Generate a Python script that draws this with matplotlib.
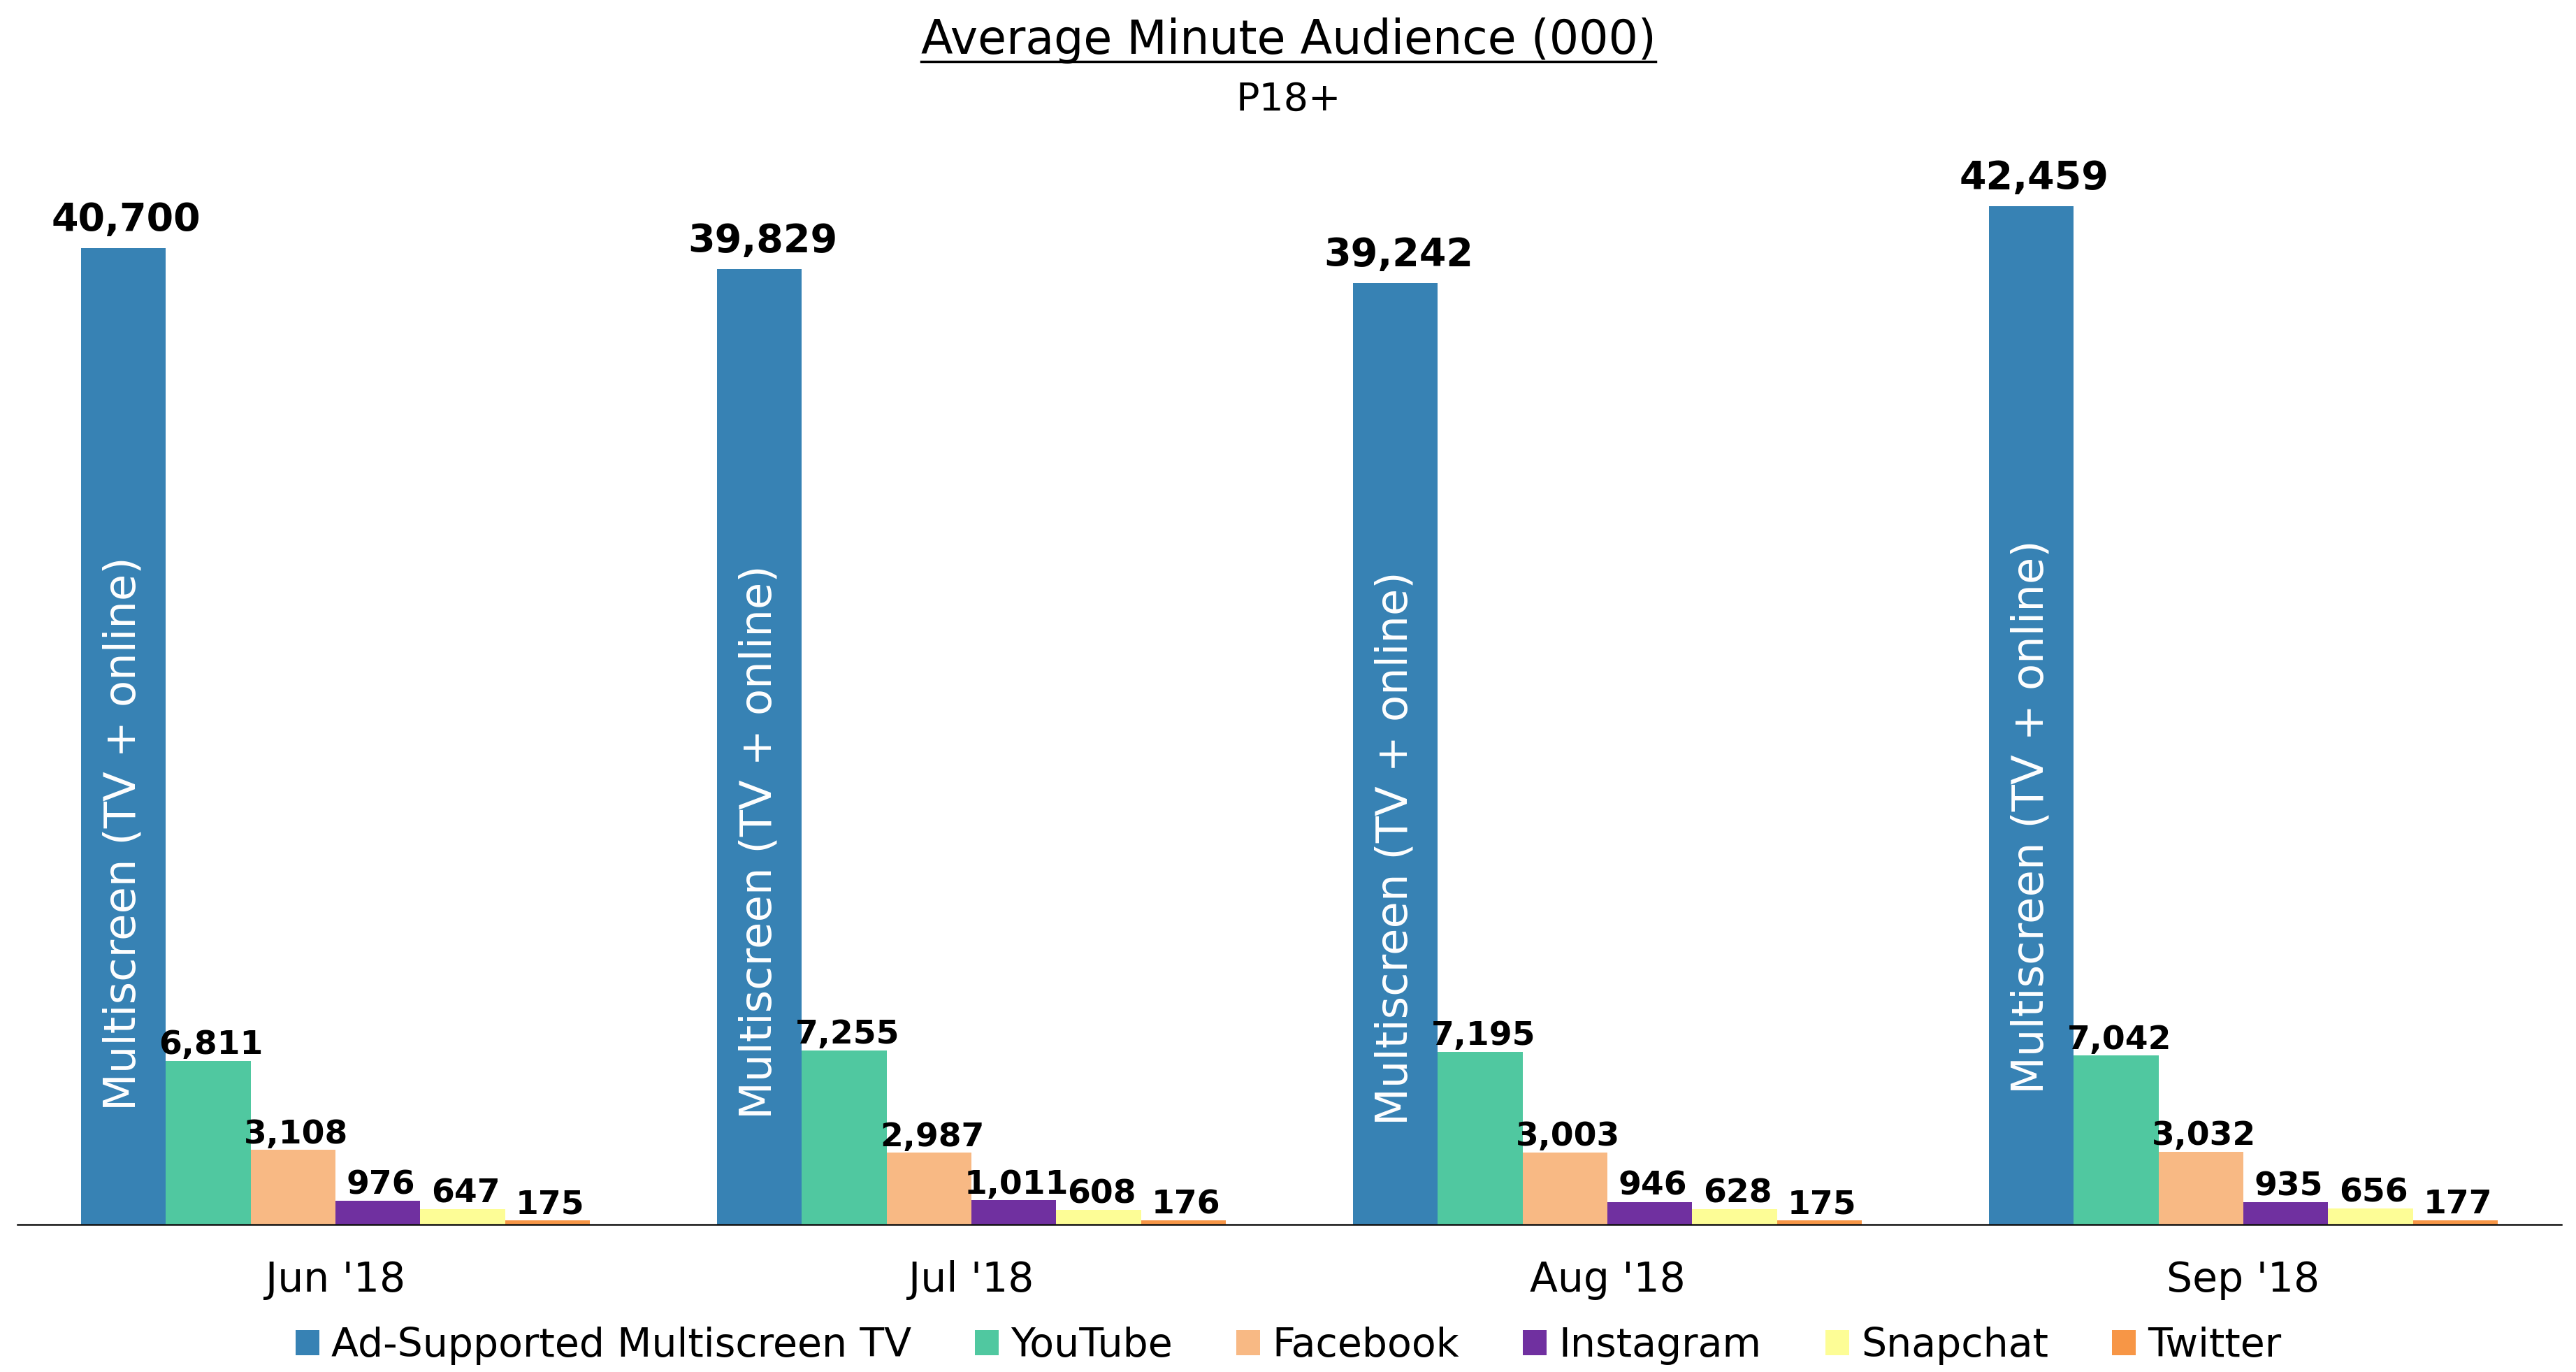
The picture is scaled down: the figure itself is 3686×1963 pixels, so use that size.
import numpy as np
import matplotlib
matplotlib.use("Agg")
import matplotlib.pyplot as plt
from matplotlib.lines import Line2D

# ---- data ----
months = ["Jun '18", "Jul '18", "Aug '18", "Sep '18"]
series = ["Ad-Supported Multiscreen TV", "YouTube", "Facebook", "Instagram", "Snapchat", "Twitter"]
multiscreen_tv = [40700, 39829, 39242, 42459]
youtube = [6811, 7255, 7195, 7042]
facebook = [3108, 2987, 3003, 3032]
instagram = [976, 1011, 946, 935]
snapchat = [647, 608, 628, 656]
twitter = [175, 176, 175, 177]
colors = ["#3782B4", "#50C8A0", "#F8B984", "#7030A0", "#FDFD96", "#F79646"]

values = [multiscreen_tv, youtube, facebook, instagram, snapchat, twitter]

plt.rcParams['font.family'] = ['DejaVu Sans']

fig = plt.figure(figsize=(36.87, 19.63), dpi=100)
ax = fig.add_axes([0.00678, 0.10749, 0.98725, 0.76939])

x = np.arange(len(months))
w = 0.8 / len(series)

for i, (name, vals, col) in enumerate(zip(series, values, colors)):
    pos = x + (i - (len(series) - 1) / 2) * w
    ax.bar(pos, vals, width=w, color=col, label=name, edgecolor='none')
    for px, v in zip(pos, vals):
        if i == 0:
            # big value on top + rotated white caption inside the bar
            ax.annotate(f"{v:,}", (px, v), xytext=(3, 18), textcoords='offset points',
                        ha='center', va='baseline', fontsize=40, fontweight='bold')
            ax.text(px, v * 0.4, "Multiscreen (TV + online)", rotation=90,
                    ha='center', va='center', color='white', fontsize=45)
        else:
            ax.annotate(f"{v:,}", (px, v), xytext=(3, 7), textcoords='offset points',
                        ha='center', va='baseline', fontsize=34, fontweight='bold')

ax.set_xlim(-0.5, len(months) - 0.5)
ax.set_ylim(0, 44000)
ax.set_xticks(x)
ax.set_xticklabels(months, fontsize=42)
ax.tick_params(axis='x', length=0, pad=37)
ax.set_yticks([])
for s in ['top', 'right', 'left']:
    ax.spines[s].set_visible(False)
ax.spines['bottom'].set_linewidth(1.8)
ax.spines['bottom'].set_color('#111111')

# title + subtitle
title = fig.text(0.5, 0.96077, "Average Minute Audience (000)", ha='center', va='baseline', fontsize=48)
fig.text(0.5, 0.91951, "P18+", ha='center', va='baseline', fontsize=40)

# underline the title
fig.canvas.draw()
bb = title.get_window_extent(fig.canvas.get_renderer()).transformed(fig.transFigure.inverted())
fig.add_artist(Line2D([bb.x0, bb.x1], [0.95517, 0.95517], color='black', linewidth=2.5,
                      transform=fig.transFigure))

fig.legend(loc='center', bbox_to_anchor=(0.5, 0.019), ncol=6, frameon=False,
           fontsize=41, handlelength=0.6, handleheight=0.6, handletextpad=0.3,
           columnspacing=1.6)

fig.savefig("out.png", dpi=100)
